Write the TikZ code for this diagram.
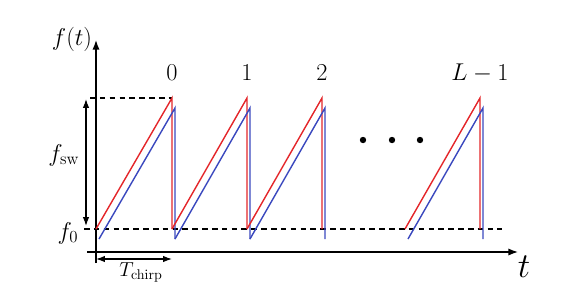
\documentclass[tikz,border=0pt]{standalone}
\usepackage{amsmath}
\usepackage{xcolor}
\usetikzlibrary{arrows.meta, positioning}

\definecolor{txred}{RGB}{228,38,42}
\definecolor{rxblue}{RGB}{58,72,190}

\begin{document}
\begin{tikzpicture}[
		x=0.025cm, y=-0.025cm,
		axis/.style={
			line width=1pt,
			-{Latex[length=2.4mm, width=1.8mm]},
		},
		span/.style={
			line width=0.9pt,
			{Latex[length=2.2mm, width=1.6mm]}-{Latex[length=2.2mm, width=1.6mm]},
		},
		guide/.style={
			dashed,
			line width=0.8pt,
			dash pattern=on 4pt off 3pt
		},
		tx/.style={txred, line width=1pt},
		rx/.style={rxblue, line width=1pt},
		lbl/.style={font=\fontsize{17}{20}\selectfont, inner sep=0pt}
	]

	\useasboundingbox (0,0) rectangle (587,299);

	% axes
	\coordinate (vbot) at (96,263);
	\coordinate (vtop) at (96,40);
	\coordinate (hleft) at (87,252);
	\coordinate (hright) at (518,252);
	\draw[axis] (vbot) -- (vtop);
	\draw[axis] (hleft) -- (hright);
	\node[lbl] (ft) at (72,39) {$f(t)$};
	\node[font=\fontsize{26}{30}\selectfont, inner sep=0pt] (tt) at (524,267) {$t$};

	% levels
	\coordinate (top0) at (90,98);
	\coordinate (top1) at (172,98);
	\coordinate (low0) at (84,229);
	\coordinate (low1) at (502,229);
	\draw[guide] (top0) -- (top1);
	\draw[guide] (low0) -- (low1);

	\coordinate (swtop) at (86,99);
	\coordinate (swbot) at (86,226);
	\draw[span] (swbot) -- (swtop);
	\node[lbl] (fsw) at (64,155) {$f_{\mathrm{sw}}$};
	\node[lbl] (f0) at (68,233) {$f_0$};

	% chirps
	\foreach \a/\b/\lab in {96/172/0, 172/247/1, 247/322/2, 405/480/L-1}{
		\draw[tx] (\a,229) -- (\b,98) -- (\b,229);
		\draw[rx] (\a+3,239) -- (\b+3,108) -- (\b+3,239);
		\node[lbl] at (\b,73) {$\lab$};
	}

	\foreach \x in {363,392,420}
		\fill (\x,140) circle (3.2);

	% chirp duration
	\coordinate (ca) at (96,259);
	\coordinate (cb) at (172,259);
	\draw[span] (ca) -- (cb);
	\node[font=\fontsize{14}{16}\selectfont, inner sep=0pt] (tc) at (141,272) {$T_{\mathrm{chirp}}$};

\end{tikzpicture}
\end{document}
